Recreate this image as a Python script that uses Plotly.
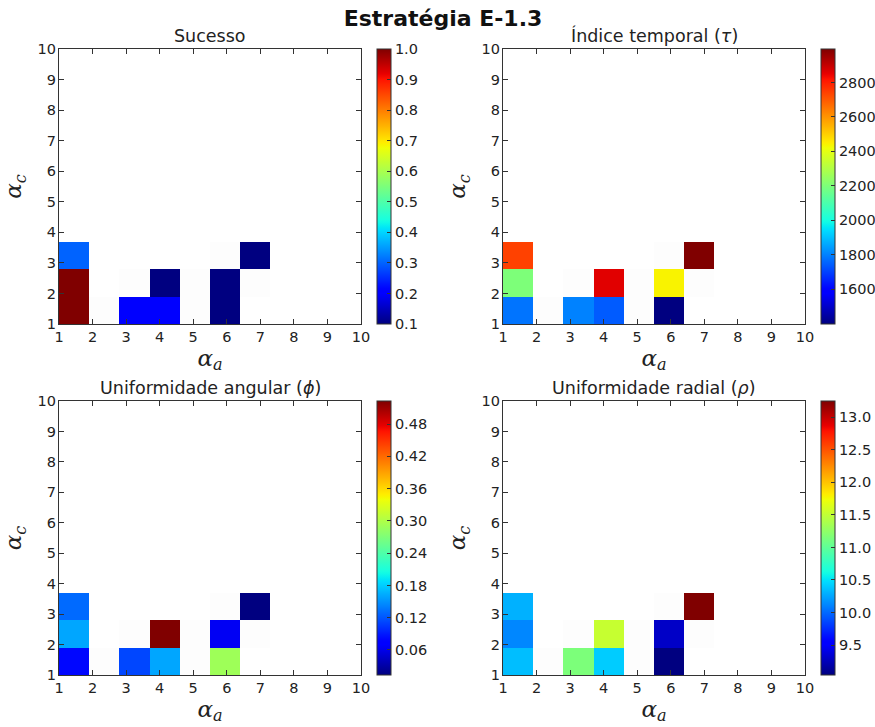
import numpy as np
import plotly.graph_objects as go

# Parameter grid cells that produced results (alpha_a, alpha_c)
alpha_a = [1, 1, 1, 3, 4, 4, 6, 6, 7]
alpha_c = [1, 2, 3, 1, 1, 2, 1, 2, 3]

# Metric values for each cell above
sucesso = [1.0, 1.0, 0.3, 0.2, 0.2, 0.1, 0.1, 0.1, 0.1]
tau = [1780, 2200, 2740, 1800, 1740, 2860, 1398, 2440, 2994]
phi = [0.080, 0.160, 0.130, 0.112, 0.160, 0.523, 0.290, 0.065, 0.0135]
rho = [10.35, 10.12, 10.30, 11.15, 10.41, 11.53, 9.04, 9.30, 13.25]

# Cells evaluated without any successful run
empty_a = [2, 3, 5, 5, 6, 7]
empty_c = [1, 2, 1, 2, 3, 2]

axis_ticks = list(range(1, 11))
edges = np.linspace(1, 10, 11)

panel_titles = ["Sucesso", "Índice temporal (<i>τ</i>)",
                "Uniformidade angular (<i>ϕ</i>)", "Uniformidade radial (<i>ρ</i>)"]
cbar_ticks = [
    [0.1, 0.2, 0.3, 0.4, 0.5, 0.6, 0.7, 0.8, 0.9, 1.0],
    [1600, 1800, 2000, 2200, 2400, 2600, 2800],
    [0.06, 0.12, 0.18, 0.24, 0.30, 0.36, 0.42, 0.48],
    [9.5, 10.0, 10.5, 11.0, 11.5, 12.0, 12.5, 13.0],
]
cbar_fmt = ["{:.1f}", "{:d}", "{:.2f}", "{:.1f}"]
metrics = [sucesso, tau, phi, rho]


def jet_scale(n=101):
    # matplotlib-style jet colormap
    r = ([0, 0.35, 0.66, 0.89, 1], [0, 0, 1, 1, 0.5])
    g = ([0, 0.125, 0.375, 0.64, 0.91, 1], [0, 0, 1, 1, 0, 0])
    b = ([0, 0.11, 0.34, 0.65, 1], [0.5, 1, 1, 0, 0])
    out = []
    for t in np.linspace(0, 1, n):
        rr = np.interp(t, *r) * 255
        gg = np.interp(t, *g) * 255
        bb = np.interp(t, *b) * 255
        out.append([float(t), f"rgb({rr:.0f},{gg:.0f},{bb:.0f})"])
    return out


JET = jet_scale()


def grid(a_list, c_list, vals):
    z = [[None] * 10 for _ in range(10)]
    for a, c, v in zip(a_list, c_list, vals):
        z[c - 1][a - 1] = v
    return z


W, H = 875, 727
# pixel boxes of the four plotting areas: (left, right, top, bottom)
boxes = [(59, 361, 49, 324), (503, 805, 49, 324),
         (59, 361, 401, 675), (503, 805, 401, 675)]
cbar_left = [377, 821, 377, 821]

FONT = "DejaVu Sans"
TXT = "#222222"

fig = go.Figure()
annotations = []

for i, (vals, box) in enumerate(zip(metrics, boxes)):
    l, r, t, b = box
    xa = "x" if i == 0 else f"x{i + 1}"
    ya = "y" if i == 0 else f"y{i + 1}"

    fig.add_trace(go.Heatmap(
        x=edges, y=edges, z=grid(empty_a, empty_c, [0] * len(empty_a)),
        colorscale=[[0, "rgb(253,253,253)"], [1, "rgb(253,253,253)"]],
        showscale=False, xaxis=xa, yaxis=ya, hoverinfo="skip"))

    fig.add_trace(go.Heatmap(
        x=edges, y=edges, z=grid(alpha_a, alpha_c, vals),
        zmin=min(vals), zmax=max(vals), colorscale=JET,
        xaxis=xa, yaxis=ya,
        colorbar=dict(
            x=cbar_left[i] / W, xanchor="left", xpad=0,
            y=1 - (t + b) / 2 / H, yanchor="middle", ypad=0,
            len=(b - t) / H, lenmode="fraction", thickness=14,
            outlinewidth=1, outlinecolor="#333333",
            tickvals=cbar_ticks[i],
            ticktext=[cbar_fmt[i].format(v) for v in cbar_ticks[i]],
            ticks="inside", ticklen=4, tickcolor="#333333",
            tickfont=dict(family=FONT, size=14.5, color=TXT))))

    axis_common = dict(
        range=[1, 10], tickvals=axis_ticks, ticks="inside", ticklen=5,
        tickcolor="#333333", showline=True, linecolor="#333333", linewidth=1.3,
        mirror="ticks", showgrid=False, zeroline=False, automargin=False,
        tickfont=dict(family=FONT, size=14.5, color=TXT))
    fig.layout[f"xaxis{'' if i == 0 else i + 1}"] = dict(
        axis_common, domain=[l / W, r / W], anchor=ya, ticklabelstandoff=-1,
        title=dict(text="<i>α<sub>a</sub></i>", standoff=5,
                   font=dict(family="DejaVu Serif", size=23, color=TXT)))
    fig.layout[f"yaxis{'' if i == 0 else i + 1}"] = dict(
        axis_common, domain=[1 - b / H, 1 - t / H], anchor=xa, ticklabelstandoff=-1,
        title=dict(text="<i>α<sub>c</sub></i>", standoff=9,
                   font=dict(family="DejaVu Serif", size=23, color=TXT)))

    annotations.append(dict(
        text=panel_titles[i], x=(l + r) / 2 / W, y=1 - (t - 1) / H,
        xref="paper", yref="paper", xanchor="center", yanchor="bottom",
        showarrow=False, font=dict(family=FONT, size=17.5, color=TXT)))

fig.update_layout(
    width=W, height=H, margin=dict(l=0, r=0, t=0, b=0, autoexpand=False),
    paper_bgcolor="white", plot_bgcolor="white",
    title=dict(text="<b>Estratégia E-1.3</b>", x=443 / W, xanchor="center",
               y=1 - 18 / H, yanchor="middle", yref="container",
               font=dict(family=FONT, size=22, color="#111111")),
    annotations=annotations, showlegend=False)

fig.write_html("out.html")
